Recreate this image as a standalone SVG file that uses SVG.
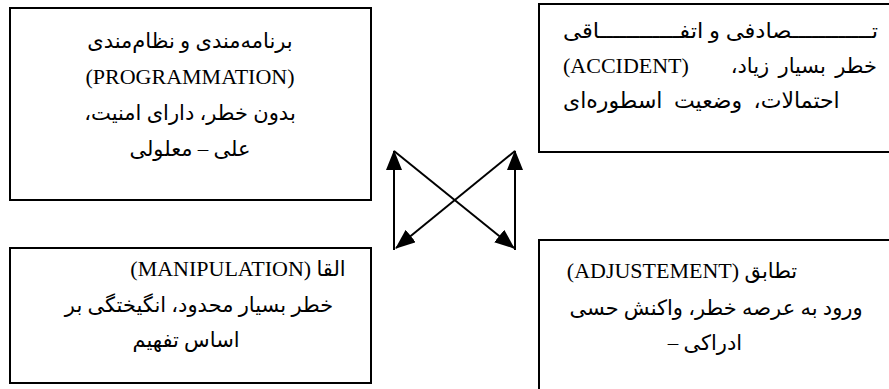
<svg xmlns="http://www.w3.org/2000/svg" width="889" height="389" viewBox="0 0 889 389">
<defs>
<style>
.box{fill:#fff;stroke:#000;stroke-width:2}
.t{font-family:"Liberation Serif","DejaVu Sans",serif;font-size:21px;fill:#000;text-anchor:middle}
.s{text-anchor:start}
.e{text-anchor:end}
.r{direction:rtl}
.l{direction:ltr}
.lat{font-size:22px}
.con{stroke:#000;stroke-width:2;fill:none}
</style>
<marker id="ah" markerUnits="userSpaceOnUse" markerWidth="20" markerHeight="16" viewBox="0 0 20 16" refX="19" refY="8" orient="auto">
<path d="M0,0 L20,8 L0,16 Z" fill="#000"/>
</marker>
</defs>
<rect width="889" height="389" fill="#fff"/>
<g id="programmation">
<rect class="box" x="10" y="8" width="361" height="192"/>
<text class="t r" x="190" y="48">برنامه‌مندی و نظام‌مندی</text>
<text class="t l lat" x="190" y="84">(PROGRAMMATION)</text>
<text class="t r" x="190" y="120">بدون خطر، دارای امنیت،</text>
<text class="t r" x="190" y="156">علی – معلولی</text>
</g>
<g id="accident">
<rect class="box" x="539" y="4" width="360" height="148"/>
<text class="t l s" x="563" y="38" textLength="315" lengthAdjust="spacingAndGlyphs">تــــــــــــصادفی و اتفــــــــــــاقی</text>
<text class="t l s lat" x="563" y="73">(ACCIDENT)</text>
<text class="t l e" x="877" y="73" style="word-spacing:4px">خطر بسیار زیاد،&#x200F;</text>
<text class="t l s" x="563" y="108" style="font-size:22px;word-spacing:6px">احتمالات، وضعیت اسطوره‌ای</text>
</g>
<g id="manipulation">
<rect class="box" x="10" y="248" width="361" height="135"/>
<text class="t r" x="238" y="276">القا <tspan class="lat">(MANIPULATION)</tspan></text>
<text class="t r" x="199" y="312">خطر بسیار محدود، انگیختگی بر</text>
<text class="t r" x="186" y="347">اساس تفهیم</text>
</g>
<g id="adjustement">
<rect class="box" x="539" y="240" width="360" height="160"/>
<text class="t r" x="682" y="278">تطابق <tspan class="lat">(ADJUSTEMENT)</tspan></text>
<text class="t r" x="716" y="315">ورود به عرصه خطر، واکنش حسی</text>
<text class="t r" x="705" y="350">ادراکی –</text>
</g>
<g id="connectors">
<line class="con" x1="394" y1="250" x2="394" y2="151" marker-end="url(#ah)"/>
<line class="con" x1="515" y1="250" x2="515" y2="151" marker-end="url(#ah)"/>
<line class="con" x1="394" y1="151" x2="514" y2="248" marker-end="url(#ah)"/>
<line class="con" x1="515" y1="151" x2="396" y2="248" marker-end="url(#ah)"/>
</g>
</svg>
